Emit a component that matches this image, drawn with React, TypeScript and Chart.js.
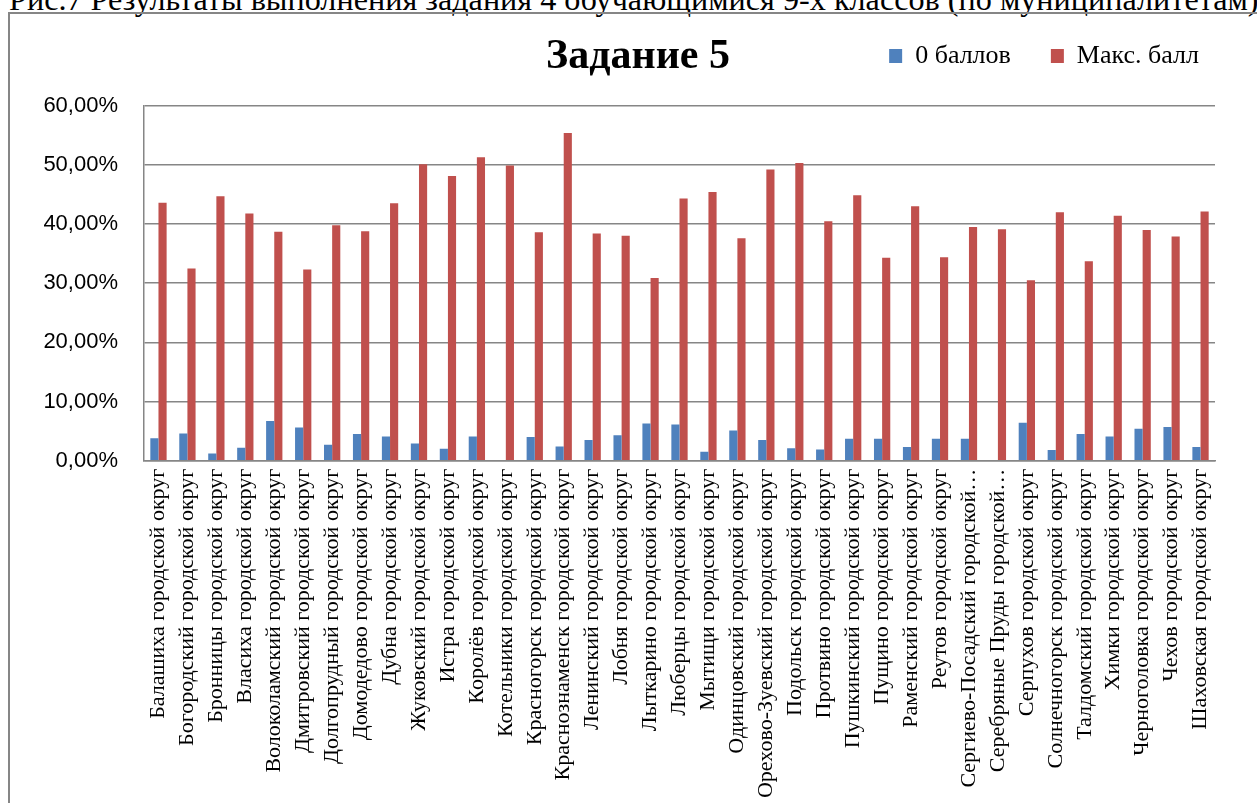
import React, { useEffect, useRef } from "react";
import { Chart, registerables } from "chart.js";

Chart.register(...registerables);

const CAPTION =
  "Рис.7 Результаты выполнения задания 4 обучающимися 9-х классов (по муниципалитетам)";
const TITLE = "Задание 5";
const SERIES_NAMES = ["0 баллов", "Макс. балл"];

const CATEGORIES = [
  "Балашиха городской округ",
  "Богородский городской округ",
  "Бронницы городской округ",
  "Власиха городской округ",
  "Волоколамский городской округ",
  "Дмитровский городской округ",
  "Долгопрудный городской округ",
  "Домодедово городской округ",
  "Дубна городской округ",
  "Жуковский городской округ",
  "Истра городской округ",
  "Королёв городской округ",
  "Котельники городской округ",
  "Красногорск городской округ",
  "Краснознаменск городской округ",
  "Ленинский городской округ",
  "Лобня городской округ",
  "Лыткарино городской округ",
  "Люберцы городской округ",
  "Мытищи городской округ",
  "Одинцовский городской округ",
  "Орехово-Зуевский городской округ",
  "Подольск городской округ",
  "Протвино городской округ",
  "Пушкинский городской округ",
  "Пущино городской округ",
  "Раменский городской округ",
  "Реутов городской округ",
  "Сергиево-Посадский городской…",
  "Серебряные Пруды городской…",
  "Серпухов городской округ",
  "Солнечногорск городской округ",
  "Талдомский городской округ",
  "Химки городской округ",
  "Черноголовка городской округ",
  "Чехов городской округ",
  "Шаховская городской округ",
];

// percent values
const ZERO_POINTS = [
  3.8, 4.6, 1.2, 2.2, 6.7, 5.6, 2.7, 4.5, 4.1, 2.9, 2.0, 4.1, 0, 4.0, 2.4, 3.5,
  4.3, 6.3, 6.1, 1.5, 5.1, 3.5, 2.1, 1.9, 3.7, 3.7, 2.3, 3.7, 3.7, 0, 6.4, 1.8,
  4.5, 4.1, 5.4, 5.7, 2.3,
];

const MAX_POINTS = [
  43.6, 32.5, 44.7, 41.8, 38.7, 32.3, 39.8, 38.8, 43.5, 50.1, 48.1, 51.3, 49.9,
  38.6, 55.4, 38.4, 38.0, 30.9, 44.3, 45.4, 37.6, 49.2, 50.3, 40.45, 44.85,
  34.3, 43.0, 34.4, 39.5, 39.1, 30.5, 42.0, 33.7, 41.4, 39.0, 37.9, 42.1,
];

const Y_MIN = 0;
const Y_MAX = 60;
const Y_STEP = 10;

const COLORS = ["#4F81BD", "#C0504D"];
const GRID = "#868686";

function formatPct(v: number): string {
  return v.toFixed(2).replace(".", ",") + "%";
}

export default function App() {
  const ref = useRef<HTMLCanvasElement | null>(null);

  useEffect(() => {
    if (!ref.current) return;
    const chart = new Chart(ref.current, {
      type: "bar",
      data: {
        labels: CATEGORIES,
        datasets: [
          {
            label: SERIES_NAMES[0],
            data: ZERO_POINTS,
            backgroundColor: COLORS[0],
            borderWidth: 0,
            yAxisID: "y",
            categoryPercentage: 0.563,
            barPercentage: 1,
          },
          {
            label: SERIES_NAMES[1],
            data: MAX_POINTS,
            backgroundColor: COLORS[1],
            borderWidth: 0,
            yAxisID: "y",
            categoryPercentage: 0.563,
            barPercentage: 1,
          },
        ],
      },
      options: {
        responsive: false,
        animation: false,
        devicePixelRatio: 1,
        layout: { padding: { top: -11, left: 27, right: 27, bottom: 0 } },
        plugins: {
          tooltip: { enabled: false },
          legend: {
            display: true,
            position: "top",
            align: "end",
            weight: 3000,
            labels: {
              color: "#000",
              font: { family: "'Liberation Serif', serif", size: 26 },
              boxWidth: 13,
              boxHeight: 14,
              padding: 40,
            },
          },
          title: {
            display: true,
            text: TITLE,
            position: "top",
            weight: 2000,
            color: "#000",
            font: { family: "'Liberation Serif', serif", size: 42, weight: "bold" },
            padding: { top: -46.7, bottom: 23 },
          },
        },
        scales: {
          x: {
            grid: { display: false, drawTicks: false },
            border: { display: true, color: GRID, width: 1.5 },
            ticks: {
              autoSkip: false,
              maxRotation: 90,
              minRotation: 90,
              padding: 8,
              color: "#000",
              font: { family: "'Liberation Serif', serif", size: 22 },
            },
            afterFit: (s: any) => {
              s.height = 342.3;
            },
          },
          y: {
            min: Y_MIN,
            max: Y_MAX,
            grid: { color: GRID, lineWidth: 1.5, drawTicks: false },
            border: { display: true, color: GRID, width: 1.5 },
            ticks: {
              stepSize: Y_STEP,
              padding: 26,
              color: "#000",
              font: { family: "'Liberation Sans', Arial, sans-serif", size: 22 },
              callback: (v: any) => formatPct(Number(v)),
            },
            afterFit: (s: any) => {
              s.width = 107;
            },
          },
          yR: {
            type: "linear",
            position: "right",
            display: true,
            grid: { display: false, drawTicks: false },
            border: { display: false },
            ticks: { display: false },
            afterFit: (s: any) => {
              s.width = 24;
            },
          },
        },
      },
    } as any);
    return () => chart.destroy();
  }, []);

  return (
    <div
      style={{
        position: "fixed",
        left: 0,
        top: 0,
        width: 1257,
        height: 803,
        overflow: "hidden",
        background: "#fff",
      }}
    >
      <div
        style={{
          position: "absolute",
          left: 9,
          top: -17,
          whiteSpace: "nowrap",
          fontFamily: "'Liberation Serif', serif",
          fontSize: 32.2,
          lineHeight: 1,
          color: "#000",
        }}
      >
        {CAPTION}
      </div>
      <div
        style={{
          position: "absolute",
          left: 8,
          top: 12,
          width: 1262,
          height: 800,
          border: `2px solid ${GRID}`,
          boxSizing: "border-box",
        }}
      >
        <canvas
          ref={ref}
          width={1256}
          height={789}
          style={{ position: "absolute", left: 0, top: 0, width: 1256, height: 789 }}
        />
      </div>
    </div>
  );
}
